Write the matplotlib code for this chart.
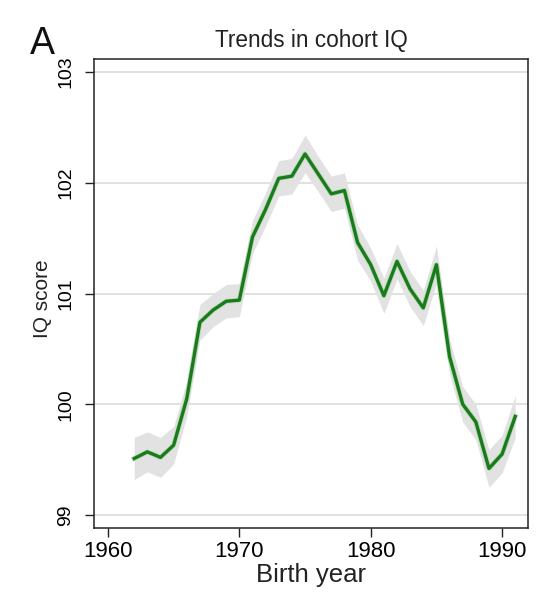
import numpy as np
import matplotlib
matplotlib.use("Agg")
import matplotlib.pyplot as plt
import matplotlib.patheffects as pe

plt.rcParams['font.family'] = ['Liberation Sans', 'DejaVu Sans']

#-- Data
years = list(range(1962, 1992))
iq = [99.51, 99.57, 99.52, 99.63, 100.05, 100.74, 100.85, 100.93, 100.94, 101.51,
      101.76, 102.04, 102.06, 102.26, 102.08, 101.90, 101.93, 101.46, 101.26, 100.98,
      101.29, 101.04, 100.87, 101.26, 100.43, 100.00, 99.84, 99.42, 99.55, 99.89]
ci_half = [0.19, 0.18, 0.18, 0.17, 0.16, 0.16, 0.15, 0.15, 0.15, 0.15,
           0.15, 0.16, 0.16, 0.17, 0.16, 0.16, 0.16, 0.16, 0.15, 0.16,
           0.16, 0.16, 0.16, 0.17, 0.16, 0.16, 0.16, 0.17, 0.17, 0.19]
xticks = [1960, 1970, 1980, 1990]
yticks = [99, 100, 101, 102, 103]

iq = np.array(iq)
ci_half = np.array(ci_half)

fig = plt.figure(figsize=(5.55, 6.05), dpi=100)
ax = fig.add_axes([94/555, 1-527.7/605, (528-94)/555, (527.7-59.3)/605])

for yv in yticks:
    ax.axhline(yv, color='#dedede', lw=1.3, zorder=0)

ax.fill_between(years, iq-ci_half, iq+ci_half, color='#e2e2e2', lw=0, zorder=1)
ax.plot(years, iq, color='#1b7a1b', lw=2.4, zorder=3,
        path_effects=[pe.Stroke(linewidth=3.6, foreground='#9ad89a', alpha=0.6), pe.Normal()])

ax.set_xlim(1958.94, 1991.97)
ax.set_ylim(98.885, 103.115)
ax.set_xticks(xticks)
ax.set_yticks(yticks)
ax.tick_params(axis='x', length=6.5, width=1, labelsize=16, pad=3, color='#222222')
ax.tick_params(axis='y', length=6.5, width=1, labelsize=14, pad=7.5, color='#222222')
for lab in ax.get_yticklabels():
    lab.set_rotation(90)
    lab.set_va('center')
for s in ax.spines.values():
    s.set_linewidth(1.1)
    s.set_color('#222222')

ax.set_title('Trends in cohort IQ', fontsize=16.3, pad=8.6, color='#222222')
ax.set_xlabel('Birth year', fontsize=18.5, color='#222222', labelpad=1)
ax.set_ylabel('IQ score', fontsize=15, color='#222222', va='center')
ax.yaxis.set_label_coords((42-94)/434, (527.7-299)/468.4)

fig.text(30/555, 1-53.5/605, 'A', fontsize=27, ha='left', va='baseline', color='#111111')

fig.savefig('out.png', dpi=100)
